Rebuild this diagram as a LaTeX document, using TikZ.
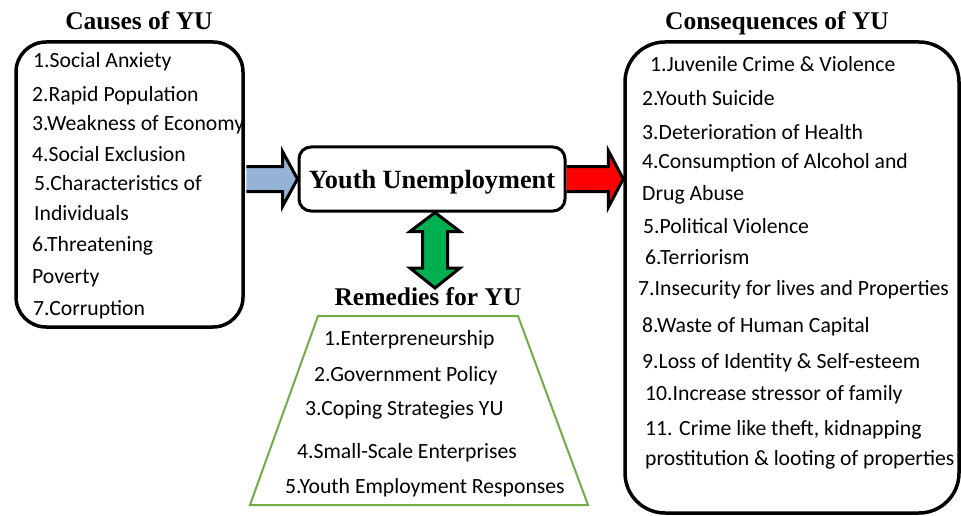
\documentclass[tikz,border=0pt]{standalone}
\usepackage{fontspec}
\setmainfont{Liberation Serif}
\newfontfamily\itemfont{Carlito}
\usetikzlibrary{calc}
\definecolor{causeblue}{RGB}{149,179,215}
\definecolor{effectred}{RGB}{255,0,0}
\definecolor{remedygreen}{RGB}{0,176,80}
\definecolor{trapgreen}{RGB}{112,173,71}

\begin{document}
\begin{tikzpicture}[x=1pt,y=-1pt,
  title/.style={font=\fontsize{25.5}{30}\selectfont\bfseries, inner sep=0pt, anchor=base},
  item/.style={font=\itemfont\fontsize{21.7}{26}\selectfont, inner sep=0pt, anchor=base west},
  panel/.style={draw, line width=3.5pt, inner sep=0pt},
  blockarrow/.style={draw, line width=3pt, line join=miter}]

\useasboundingbox (0,0) rectangle (961,516);

\node[panel, rounded corners=30pt, minimum width=227pt, minimum height=285pt] (causes) at (129.5,184.5) {};
\node[panel, rounded corners=40pt, minimum width=334pt, minimum height=471pt] (effects) at (792,277.5) {};
\node[panel, line width=3pt, rounded corners=12pt, minimum width=266pt, minimum height=64pt,
  font=\fontsize{26.3}{30}\selectfont\bfseries, text depth=0pt] (yu) at (432,179) {Youth Unemployment};

\node[title] (causestitle) at (139,30) {Causes of YU};
\node[title] (effectstitle) at (777,30) {Consequences of YU};
\node[title] (remediestitle) at (428,305) {Remedies for YU};

\coordinate (b1) at ($(causes.east |- yu.west)+(1.5,0)$);
\coordinate (b2) at (yu.west);
\coordinate (r1) at (yu.east);
\coordinate (r2) at (effects.west |- yu.east);
\coordinate (g2) at (435,288);
\coordinate (g1) at (g2 |- yu.south);

\draw[blockarrow, fill=causeblue] ($(b1)+(0,-12.5)$) -- ($(b2)+(-15,-12.5)$) -- ($(b2)+(-15,-27.5)$) -- (b2)
  -- ($(b2)+(-15,27.5)$) -- ($(b2)+(-15,12.5)$) -- ($(b1)+(0,12.5)$);
\draw[blockarrow, fill=effectred] ($(r1)+(0,-12.5)$) -- ($(r2)+(-15,-12.5)$) -- ($(r2)+(-15,-28.5)$) -- (r2)
  -- ($(r2)+(-15,28.5)$) -- ($(r2)+(-15,12.5)$) -- ($(r1)+(0,12.5)$);
\draw[blockarrow, fill=remedygreen] (g1) -- ($(g1)+(25,19)$) -- ($(g1)+(12.5,19)$) -- ($(g2)+(12.5,-20)$)
  -- ($(g2)+(25,-20)$) -- (g2) -- ($(g2)+(-25,-20)$) -- ($(g2)+(-12.5,-20)$) -- ($(g1)+(-12.5,19)$)
  -- ($(g1)+(-25,19)$) -- cycle;

\draw[trapgreen, line width=2pt] (318,316) -- (518,316) -- (588,505) -- (250,505) -- cycle;

\node[item] (c1) at (33,68) {1.Social Anxiety};
\node[item] (c2) at (32,102) {2.Rapid Population};
\node[item] (c3) at (32,131) {3.Weakness of Economy};
\node[item] (c4) at (32,161) {4.Social Exclusion};
\node[item] (c5) at (34,190) {5.Characteristics of};
\node[item] (c5b) at (34,220) {Individuals};
\node[item] (c6) at (32,251) {6.Threatening};
\node[item] (c6b) at (32,283) {Poverty};
\node[item] (c7) at (33,315) {7.Corruption};

\node[item] (e1) at (650,72) {1.Juvenile Crime \& Violence};
\node[item] (e2) at (642,106) {2.Youth Suicide};
\node[item] (e3) at (642,140) {3.Deterioration of Health};
\node[item] (e4) at (642,168) {4.Consumption of Alcohol and};
\node[item] (e4b) at (642,200) {Drug Abuse};
\node[item] (e5) at (643,233) {5.Political Violence};
\node[item] (e6) at (645,264) {6.Terriorism};
\node[item] (e7) at (638,295) {7.Insecurity for lives and Properties};
\node[item] (e8) at (642,332) {8.Waste of Human Capital};
\node[item] (e9) at (642,368) {9.Loss of Identity \& Self-esteem};
\node[item] (e10) at (645,400) {10.Increase stressor of family};
\node[item] (e11) at (645,435) {11. Crime like theft, kidnapping};
\node[item] (e11b) at (645,465) {prostitution \& looting of properties};

\node[item] (m1) at (324,345) {1.Enterpreneurship};
\node[item] (m2) at (314,381) {2.Government Policy};
\node[item] (m3) at (305,415) {3.Coping Strategies YU};
\node[item] (m4) at (297,458) {4.Small-Scale Enterprises};
\node[item] (m5) at (285,493) {5.Youth Employment Responses};

\end{tikzpicture}
\end{document}
